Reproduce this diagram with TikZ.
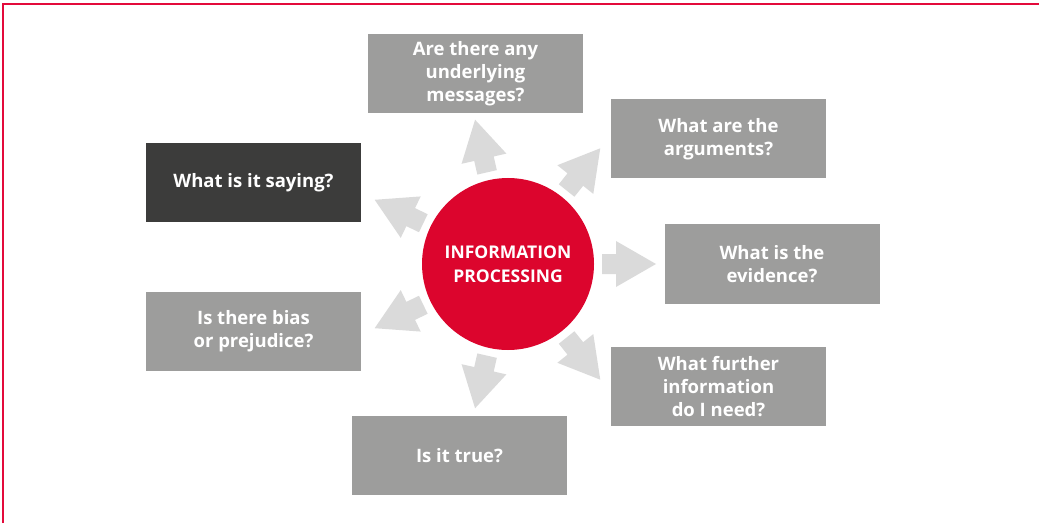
\documentclass[tikz,border=0pt]{standalone}
\usepackage{fontspec}
\setmainfont{Open Sans}
\usetikzlibrary{calc}
\definecolor{infored}{RGB}{220, 5, 45}
\definecolor{framered}{RGB}{227, 10, 59}
\definecolor{boxgrey}{RGB}{157, 157, 156}
\definecolor{boxdark}{RGB}{60, 60, 59}
\definecolor{arrowgrey}{RGB}{218, 218, 218}
\tikzset{
    question/.style={fill=boxgrey, text=white, minimum width=215pt, minimum height=79pt,
        inner sep=0pt, align=center, font=\fontsize{18.5}{23}\selectfont\bfseries},
    blockarrow/.style={fill=arrowgrey}
}

\begin{document}
\begin{tikzpicture}[x=1pt, y=1pt]

    \useasboundingbox (0,0) rectangle (1039,523);
    \draw[framered, line width=1.3pt] (3,0) -- (3,519) -- (1039,519);

    % centre
    \node[circle, fill=infored, text=white, minimum size=172pt, inner sep=0pt, align=center,
        font=\fontsize{17.5}{24}\selectfont\bfseries] (proc) at (508,259) {INFORMATION\\PROCESSING};

    % questions
    \node[question] (msgs) at (475.5,449.5) {Are there any\\underlying\\messages?};
    \node[question] (args) at (718.5,384) {What are the\\arguments?};
    \node[question] (evid) at (772,259) {What is the\\evidence?};
    \node[question] (more) at (718.5,136.5) {What further\\information\\do I need?};
    \node[question] (true) at (459.5,67.5) {Is it true?};
    \node[question] (bias) at (253.5,191.5) {Is there bias\\or prejudice?};
    \node[question, fill=boxdark] (says) at (253.5,340) {What is it saying?};

    % arrows all round
    \begin{scope}[shift={(proc.center)}]
    \foreach \k in {0,...,6}
        \fill[blockarrow, rotate=\k*360/7] (94,-10) -- (108,-10) -- (108,-23) -- (148,0)
            -- (108,23) -- (108,10) -- (94,10) -- cycle;
    \end{scope}

\end{tikzpicture}
\end{document}
